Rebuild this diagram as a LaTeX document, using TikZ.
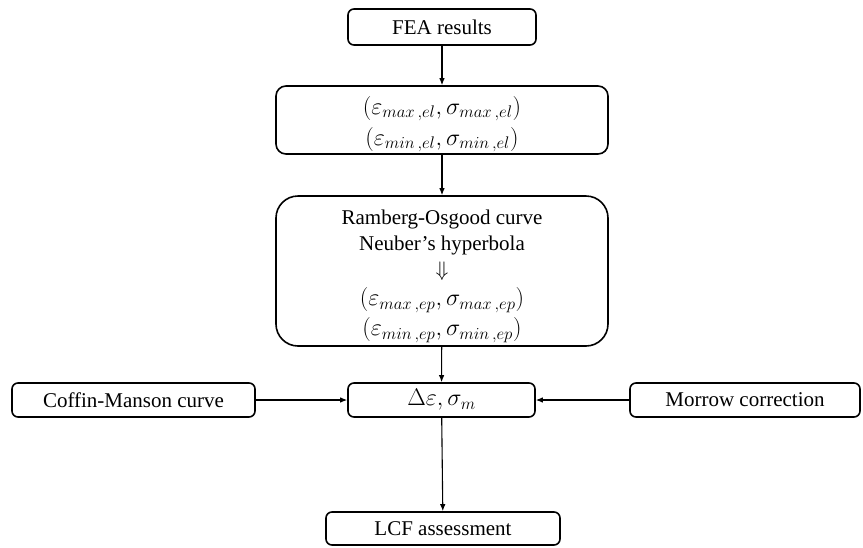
\RequirePackage{fix-cm}
\documentclass[tikz,border=0pt]{standalone}
\usepackage{fontspec}
\setmainfont{Liberation Serif}
\usetikzlibrary{arrows.meta}
\newcommand{\fs}{\fontsize{21}{25}\selectfont}
\newcommand{\mfs}{\fontsize{24}{29}\selectfont}
\tikzset{
  box/.style={draw, line width=1.6pt, rounded corners=6pt, inner sep=0pt, align=center, font=\fs},
  arr/.style={-{Latex[length=7pt,width=5.5pt]}, line width=1.1pt}
}
\begin{document}
\begin{tikzpicture}[x=1pt,y=-1pt]
\useasboundingbox (0,0) rectangle (863,547);
\node[box, minimum width=188pt, minimum height=36pt] (fea) at (442,27) {FEA results};
\node[box, rounded corners=10pt, minimum width=332pt, minimum height=68pt] (el) at (442,120)
  {\mfs\rule{0pt}{26pt}$\left(\varepsilon_{max\,,el},\sigma_{max\,,el}\right)$\\[6pt]
   \mfs$\left(\varepsilon_{min\,,el},\sigma_{min\,,el}\right)$};
\node[box, rounded corners=22pt, minimum width=332pt, minimum height=150pt] (ro) at (442,271)
  {\rule{0pt}{25pt}Ramberg-Osgood curve\\[1pt]
   Neuber’s hyperbola\\[1pt]
   $\Downarrow$\\[4pt]
   \mfs$\left(\varepsilon_{max\,,ep},\sigma_{max\,,ep}\right)$\\[5pt]
   \mfs$\left(\varepsilon_{min\,,ep},\sigma_{min\,,ep}\right)$};
\node[box, minimum width=187pt, minimum height=34pt] (d) at (441.5,400) {\mfs$\Delta\varepsilon,\sigma_m$};
\node[box, minimum width=243pt, minimum height=34pt] (cm) at (133.5,400) {Coffin-Manson curve};
\node[box, minimum width=230pt, minimum height=34pt] (mo) at (745,400) {Morrow correction};
\node[box, minimum width=234pt, minimum height=33pt] (lcf) at (443,528.5) {LCF assessment};
\draw[arr] (fea) -- (el);
\draw[arr] (el) -- (ro);
\draw[arr] (ro) -- (d);
\draw[arr] (cm) -- (d);
\draw[arr] (mo) -- (d);
\draw[arr] (d) -- (lcf);
\end{tikzpicture}
\end{document}
